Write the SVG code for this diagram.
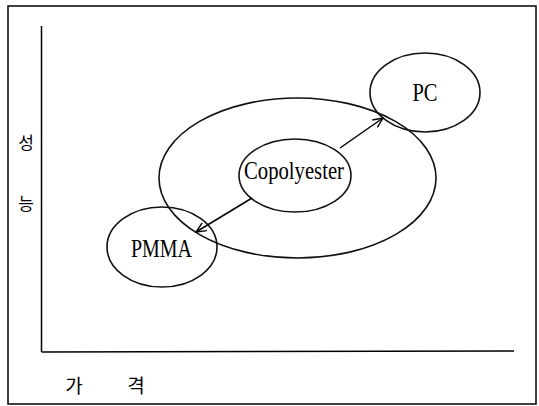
<svg xmlns="http://www.w3.org/2000/svg" width="539" height="406" viewBox="0 0 539 406">
<style>
.ln{fill:none;stroke:#000;stroke-width:1.5}
.el{fill:none;stroke:#111;stroke-width:1.6}
.lat{font-family:"Liberation Serif","Times New Roman",serif;font-size:26px;fill:#000;text-anchor:middle}
.ko{font-family:"Noto Sans CJK KR",sans-serif;font-size:17px;fill:#000;text-anchor:middle}
</style>
<defs>
<marker id="ah" markerUnits="userSpaceOnUse" markerWidth="14" markerHeight="14" viewBox="-12 -7 14 14" refX="0" refY="0" orient="auto">
<path d="M-10,-4.5 L0,0 L-10,4.5" fill="none" stroke="#000" stroke-width="1.4"/>
</marker>
</defs>
<rect width="539" height="406" fill="#fff"/>
<g id="frame">
<rect x="8" y="6" width="528" height="398" class="ln"/>
</g>
<g id="axes">
<line x1="41.5" y1="26" x2="41.5" y2="352" class="ln"/>
<line x1="41.5" y1="352" x2="514" y2="351" class="ln"/>
<text class="ko" x="26" y="149">성</text>
<text class="ko" x="26" y="209.5">능</text>
<text class="ko" x="74" y="393" style="font-size:19px">가</text>
<text class="ko" x="136" y="393" style="font-size:19px">격</text>
</g>
<g id="range">
<ellipse cx="297.5" cy="178" rx="138.5" ry="80" class="el"/>
</g>
<g id="copolyester">
<ellipse cx="295" cy="175.5" rx="56" ry="36.5" class="el"/>
<text class="lat" x="294" y="179" textLength="100" lengthAdjust="spacingAndGlyphs">Copolyester</text>
</g>
<g id="pc">
<ellipse cx="425" cy="92.5" rx="55" ry="39.5" class="el"/>
<text class="lat" x="425" y="100.5" textLength="25" lengthAdjust="spacingAndGlyphs">PC</text>
</g>
<g id="pmma">
<ellipse cx="162" cy="247" rx="55" ry="40" class="el"/>
<text class="lat" x="161.5" y="256.5" textLength="61" lengthAdjust="spacingAndGlyphs">PMMA</text>
</g>
<g id="connectors">
<line x1="340" y1="148" x2="383" y2="118" class="ln" stroke-width="1.3" marker-end="url(#ah)"/>
<line x1="252" y1="198" x2="196" y2="232" class="ln" stroke-width="1.3" marker-end="url(#ah)"/>
</g>
</svg>
